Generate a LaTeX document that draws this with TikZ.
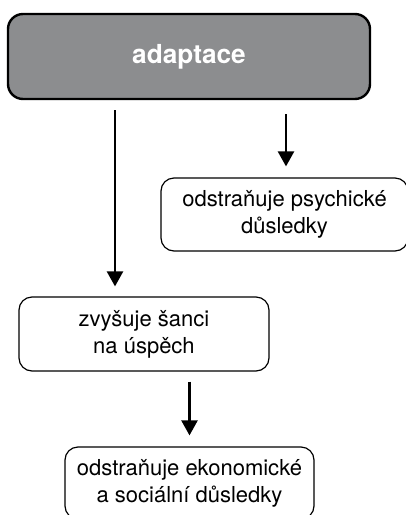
\documentclass[tikz,border=0pt]{standalone}
\usepackage{fontspec}
\setmainfont{TeX Gyre Heros}
\usetikzlibrary{arrows.meta}
\definecolor{boxgray}{HTML}{8C8D8F}
\begin{document}
\begin{tikzpicture}[x=1pt,y=-1pt,
  mainbox/.style={draw=black,line width=2.4pt,fill=boxgray,rounded corners=15pt,
    minimum width=362pt,minimum height=85pt,inner sep=0pt,
    font=\fontsize{26.2}{30}\selectfont\bfseries,text=white},
  subbox/.style={draw=black,line width=1.2pt,rounded corners=13pt,inner sep=0pt,
    align=center,font=\fontsize{22}{27}\selectfont},
  arr/.style={line width=2.4pt,-{Triangle[width=16pt,length=15pt]}}]
\useasboundingbox (0,0) rectangle (406,515);
\clip (0,0) rectangle (406,515);
\node[mainbox] (top) at (189,56.5) {adaptace};
\node[subbox,minimum width=247pt,minimum height=73pt] (psy) at (284.5,214.5)
  {odstraňuje psychické\\důsledky};
\node[subbox,minimum width=250pt,minimum height=74pt] (sance) at (144,334)
  {zvyšuje šanci\\na úspěch};
\node[subbox,minimum width=249pt,minimum height=72pt] (eko) at (189.5,483)
  {odstraňuje ekonomické\\a sociální důsledky};
\coordinate (c1) at (115,0);
\coordinate (c2) at (286,0);
\draw[arr,shorten <=10pt,shorten >=10pt] (top.south -| c1) -- (sance.north -| c1);
\draw[arr,shorten <=14pt,shorten >=11pt] (top.south -| c2) -- (psy.north -| c2);
\draw[arr,shorten <=10pt,shorten >=11pt] (sance.south -| eko.north) -- (eko.north);
\end{tikzpicture}
\end{document}
